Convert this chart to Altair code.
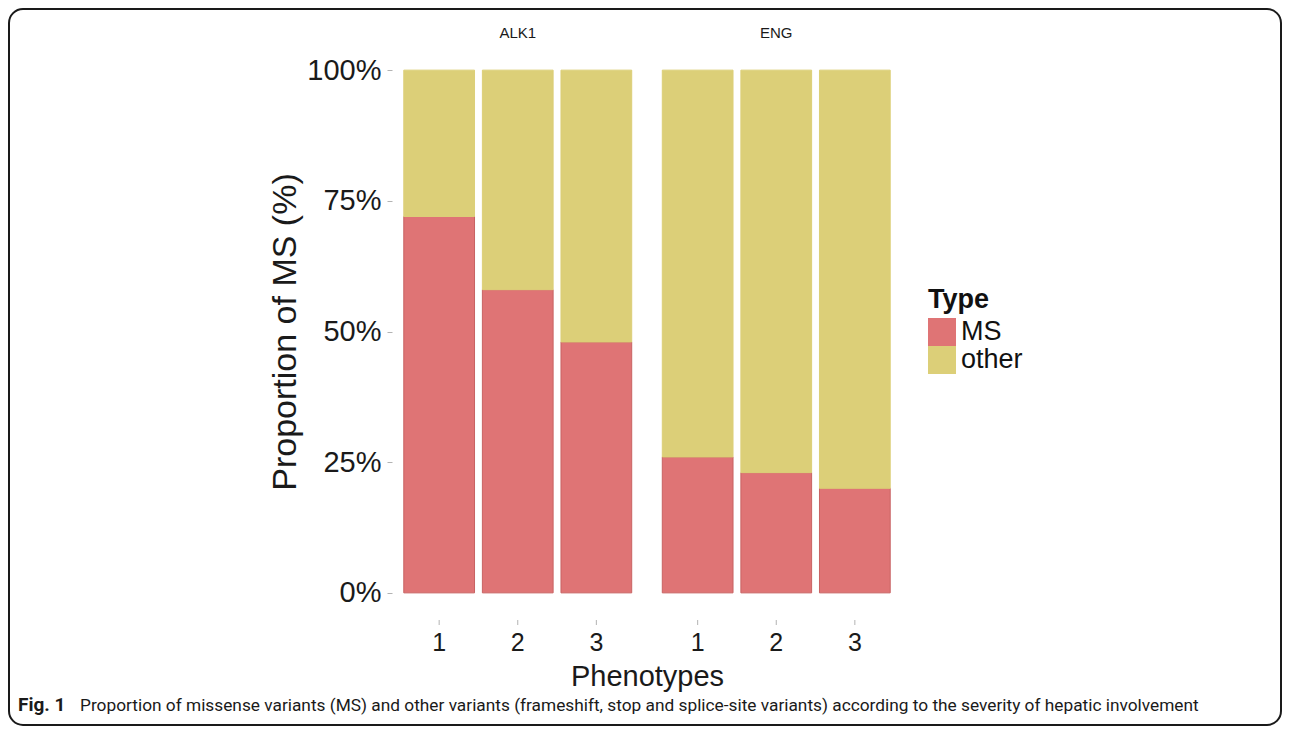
import altair as alt
import pandas as pd

# ---- data ----
genes = ["ALK1", "ENG"]
phenotypes = ["1", "2", "3"]
types = ["MS", "other"]
ms_share = {"ALK1": [0.72, 0.58, 0.48], "ENG": [0.26, 0.23, 0.20]}
other_share = {"ALK1": [0.28, 0.42, 0.52], "ENG": [0.74, 0.77, 0.80]}
y_ticks = [0, 0.25, 0.5, 0.75, 1.0]
caption_label = "Fig. 1"
caption_text = ("Proportion of missense variants (MS) and other variants (frameshift, stop and "
                "splice-site variants) according to the severity of hepatic involvement")

rows = []
for g in genes:
    for i, p in enumerate(phenotypes):
        rows.append({"gene": g, "pheno": p, "type": "MS", "value": ms_share[g][i], "order": 0})
        rows.append({"gene": g, "pheno": p, "type": "other", "value": other_share[g][i], "order": 1})
df = pd.DataFrame(rows)
ticks_df = pd.DataFrame([{"gene": g, "pheno": p} for g in genes for p in phenotypes])
one = pd.DataFrame({"t": [caption_text], "f": [caption_label]})

W, H = 510, 575
FONT = "Liberation Sans"
RED, YELLOW = "#DF7475", "#DCCF78"
RED_EDGE = "#C86262"
TXT = "#1a1a1a"
TICK = "#b3b3b3"

x_scale = alt.Scale(domain=genes, paddingInner=7 / 258.5, paddingOuter=0)
xo_scale = alt.Scale(domain=phenotypes, paddingInner=0.1, paddingOuter=0.15)

bars = alt.Chart(df).mark_bar(strokeWidth=1).encode(
    x=alt.X("gene:N", scale=x_scale,
            axis=alt.Axis(orient="top", title=None, ticks=False, tickSize=0, domain=False,
                          labelAngle=0, labelFontSize=15, labelColor=TXT, labelPadding=4,
                          labelFont=FONT)),
    xOffset=alt.XOffset("pheno:N", scale=xo_scale),
    y=alt.Y("value:Q", stack="zero",
            scale=alt.Scale(domain=[-0.05, 1.05], nice=False, zero=False),
            axis=alt.Axis(values=y_ticks, format=".0%", title="Proportion of MS (%)",
                          grid=False, domain=False, tickSize=5, tickColor=TICK,
                          labelFontSize=29, labelPadding=6, labelColor=TXT, labelFont=FONT,
                          titleFontSize=34, titleFontWeight="normal", titlePadding=4,
                          titleColor=TXT, titleFont=FONT)),
    color=alt.Color("type:N", scale=alt.Scale(domain=types, range=[RED, YELLOW]),
                    legend=alt.Legend(title="Type", orient="none", legendX=536, legendY=243,
                                      symbolType="square", symbolSize=784, symbolStrokeWidth=0,
                                      symbolOpacity=1, titleFontSize=27, titleFontWeight="bold",
                                      titleColor="#111111", labelFontSize=27, labelColor="#111111",
                                      padding=0, rowPadding=0, titlePadding=4, labelOffset=5,
                                      titleFont=FONT, labelFont=FONT)),
    stroke=alt.Stroke("type:N", scale=alt.Scale(domain=types, range=[RED_EDGE, YELLOW]), legend=None),
    order=alt.Order("order:Q"),
)

tick_marks = alt.Chart(ticks_df).mark_rule(color=TICK, strokeWidth=1).encode(
    x=alt.X("gene:N", scale=x_scale,
            axis=alt.Axis(orient="bottom", title="Phenotypes", labels=False, ticks=False,
                          domain=False, titleFontSize=29, titlePadding=43,
                          titleFontWeight="normal", titleColor=TXT, titleFont=FONT)),
    xOffset=alt.XOffset("pheno:N", scale=xo_scale),
    y=alt.value(576), y2=alt.value(581),
)

tick_labels = alt.Chart(ticks_df).mark_text(fontSize=25, font=FONT, color=TXT,
                                            baseline="alphabetic", align="center").encode(
    x=alt.X("gene:N", scale=x_scale, axis=None),
    xOffset=alt.XOffset("pheno:N", scale=xo_scale),
    y=alt.value(607),
    text="pheno:N",
)

border = alt.Chart(one).mark_rect(fillOpacity=0, stroke="#1a1a1a", strokeWidth=2,
                                  cornerRadius=14).encode(
    x=alt.value(-383), x2=alt.value(889), y=alt.value(-35), y2=alt.value(681))

fig_label = alt.Chart(one).mark_text(font="Roboto", fontSize=19, fontWeight="bold", color=TXT,
                                     align="left", baseline="alphabetic").encode(
    x=alt.value(-374), y=alt.value(667), text="f:N")

caption = alt.Chart(one).mark_text(font="Roboto", fontSize=17.3, color=TXT,
                                   align="left", baseline="alphabetic").encode(
    x=alt.value(-312), y=alt.value(667), text="t:N")

chart = alt.layer(border, bars, tick_marks, tick_labels, fig_label, caption).resolve_axis(
    x="independent"
).properties(width=W, height=H, padding=0).configure(
    font=FONT, view=alt.ViewConfig(strokeWidth=0, stroke="transparent"))

chart.save("out.html", embed_options={"renderer": "svg", "actions": False})
